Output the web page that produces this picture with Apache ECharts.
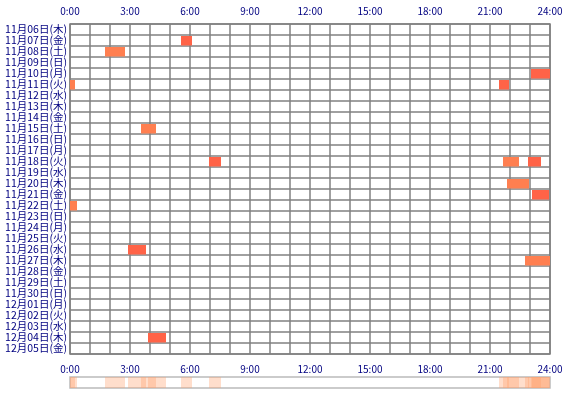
<!DOCTYPE html>
<html><head><meta charset="utf-8">
<script src="https://cdn.jsdelivr.net/npm/echarts@6/dist/echarts.min.js"></script>
<style>html,body{margin:0;background:#fff}#myChart{width:570px;height:400px}</style>
</head><body><div id="myChart"></div>
<script>
const days = ["11月06日(木)","11月07日(金)","11月08日(土)","11月09日(日)","11月10日(月)","11月11日(火)","11月12日(水)","11月13日(木)","11月14日(金)","11月15日(土)","11月16日(日)","11月17日(月)","11月18日(火)","11月19日(水)","11月20日(木)","11月21日(金)","11月22日(土)","11月23日(日)","11月24日(月)","11月25日(火)","11月26日(水)","11月27日(木)","11月28日(金)","11月29日(土)","11月30日(日)","12月01日(月)","12月02日(火)","12月03日(水)","12月04日(木)","12月05日(金)"];
// [day index, start hour, end hour]
const sessions = [
  [1, 5.55, 6.1], [2, 1.75, 2.75], [4, 23.05, 24], [5, 0, 0.25], [5, 21.45, 21.95],
  [9, 3.55, 4.3], [12, 6.95, 7.55], [12, 21.65, 22.45], [12, 22.9, 23.55],
  [14, 21.85, 22.95], [15, 23.1, 23.95], [16, 0, 0.35], [20, 2.9, 3.8],
  [21, 22.75, 24], [28, 3.9, 4.8]
];
const hourTicks = ["0:00","3:00","6:00","9:00","12:00","15:00","18:00","21:00","24:00"];

const ECharts = echarts.init(document.getElementById("myChart"));
const navy = "#000080";
const lbl = {color: navy, fontSize: 10, fontFamily: "Noto Sans CJK JP"};
const xfmt = v => (v % 3 === 0 ? hourTicks[v / 3] : "");

function renderBar(params, api) {
  const y = api.value(0), s = api.coord([api.value(1), y]), e = api.coord([api.value(2), y]);
  const h = api.size([0, 1])[1];
  return {type: "rect", shape: {x: s[0], y: s[1] - h / 2 + 1, width: e[0] - s[0], height: h - 1.5},
    style: {fill: params.dataIndex % 2 ? "#ff7f50" : "#ff6347"}};
}
function renderStrip(params, api) {
  const s = api.coord([api.value(0), 0]), e = api.coord([api.value(1), 0]);
  const h = api.size([0, 1])[1];
  return {type: "rect", shape: {x: s[0], y: s[1] - h / 2, width: e[0] - s[0], height: h},
    style: {fill: "rgba(255,160,110,0.35)"}};
}

const gridLine = {show: true, lineStyle: {color: "#808080", width: 1.5}};
ECharts.setOption({
  animation: false,
  grid: [
    {left: 70, right: 20, top: 24, bottom: 46, show: true, borderColor: "#808080", borderWidth: 1.5},
    {left: 70, right: 20, top: 377, height: 11, show: true, borderColor: "#bbb", borderWidth: 1.5}
  ],
  xAxis: [
    {gridIndex: 0, type: "value", min: 0, max: 24, interval: 1, position: "top",
     axisLine: {show: false}, axisTick: {show: false}, splitLine: gridLine,
     axisLabel: Object.assign({formatter: xfmt, showMaxLabel: true}, lbl)},
    {gridIndex: 0, type: "value", min: 0, max: 24, interval: 1, position: "bottom",
     axisLine: {show: false}, axisTick: {show: false}, splitLine: {show: false},
     axisLabel: Object.assign({formatter: xfmt, showMaxLabel: true, margin: 10}, lbl)},
    {gridIndex: 1, type: "value", min: 0, max: 24, show: false}
  ],
  yAxis: [
    {gridIndex: 0, type: "category", data: days, inverse: true,
     axisLine: {show: false}, axisTick: {show: false},
     splitLine: gridLine, axisLabel: {margin: 3, interval: 0, fontSize: 10.5, lineHeight: 11, color: navy, fontFamily: "Noto Sans CJK JP"}},
    {gridIndex: 1, type: "value", min: -0.5, max: 0.5, show: false}
  ],
  series: [
    {type: "custom", xAxisIndex: 0, yAxisIndex: 0, renderItem: renderBar,
     encode: {x: [1, 2], y: 0}, data: sessions},
    {type: "custom", xAxisIndex: 2, yAxisIndex: 1, renderItem: renderStrip,
     data: sessions.map(d => [d[1], d[2]])}
  ]
});
</script></body></html>
